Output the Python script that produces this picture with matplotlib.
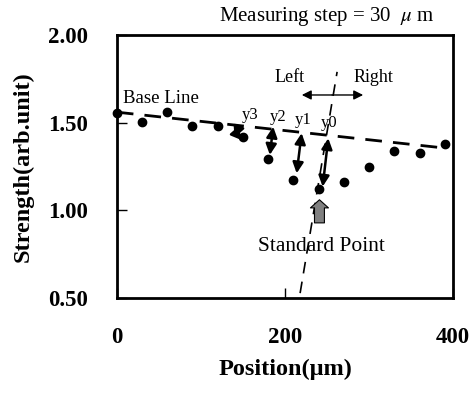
import matplotlib
matplotlib.use('Agg')
import matplotlib.pyplot as plt

plt.rcParams['font.family'] = ['Liberation Serif', 'DejaVu Serif']
plt.rcParams['mathtext.fontset'] = 'stix'

# 測定データ
positions = [0, 30, 60, 90, 120, 150, 180, 210, 240, 270, 300, 330, 360, 390]
strengths = [1.554, 1.506, 1.563, 1.481, 1.481, 1.417, 1.291, 1.171, 1.122,
             1.160, 1.247, 1.339, 1.325, 1.380]

# ベースラインと基準線
base_x = [0, 390]
base_y = [1.56, 1.355]
std_x = [218, 262]
std_y = [0.527, 1.79]

# y0..y3 の矢印 (上端, 下端)
gap_labels = ['y0', 'y1', 'y2', 'y3']
gap_top = [(251.5, 1.411), (219.8, 1.44), (186, 1.477), (146, 1.485)]
gap_bottom = [(244.8, 1.135), (213.9, 1.211), (182, 1.316), (140, 1.415)]
gap_text = [(253, 1.50), (222, 1.515), (191.5, 1.535), (158, 1.545)]

fig = plt.figure(figsize=(4.73, 3.94), dpi=100)
ax = fig.add_axes([0.247, 0.244, 0.711, 0.667])

ax.plot(positions, strengths, 'o', color='black', markersize=6, zorder=3, clip_on=False)
ax.plot(base_x, base_y, color='black', linewidth=2, dashes=(6, 4))
ax.plot(std_x, std_y, color='black', linewidth=1.2, dashes=(7, 5))

for lab, top, bot, tp in zip(gap_labels, gap_top, gap_bottom, gap_text):
    ax.annotate('', xy=top, xytext=bot,
                arrowprops=dict(arrowstyle='<|-|>', color='black', lw=1.8,
                                mutation_scale=16, shrinkA=0, shrinkB=0))
    ax.text(tp[0], tp[1], lab, fontsize=12, ha='center', va='center')

# Left / Right の矢印
ax.annotate('', xy=(220, 1.658), xytext=(256, 1.658),
            arrowprops=dict(arrowstyle='-|>', color='black', lw=1,
                            mutation_scale=14, shrinkA=0, shrinkB=0))
ax.annotate('', xy=(293, 1.658), xytext=(256, 1.658),
            arrowprops=dict(arrowstyle='-|>', color='black', lw=1,
                            mutation_scale=14, shrinkA=0, shrinkB=0))
ax.text(206, 1.76, 'Left', fontsize=13, ha='center', va='center')
ax.text(305, 1.76, 'Right', fontsize=13, ha='center', va='center')
ax.text(7, 1.64, 'Base Line', fontsize=13.5, ha='left', va='center')

# 基準点の灰色矢印
ax.annotate('', xy=(241, 1.06), xytext=(241, 0.928),
            arrowprops=dict(arrowstyle='simple,head_length=0.45,head_width=1.0,tail_width=0.55',
                            fc='gray', ec='black', lw=0.8, mutation_scale=13,
                            shrinkA=0, shrinkB=0))
ax.text(243, 0.795, 'Standard Point', fontsize=15.5, ha='center', va='center')

fig.text(0.69, 0.958, r'Measuring step = 30  $\mu$ m', fontsize=15, ha='center', va='center')

ax.set_xlim(0, 400)
ax.set_ylim(0.5, 2.0)
ax.set_xticks([0, 200, 400])
ax.set_yticks([0.5, 1.0, 1.5, 2.0])
ax.set_yticklabels(['0.50', '1.00', '1.50', '2.00'])
ax.tick_params(direction='in', length=7, width=1, pad=21, labelsize=16.5)
for lab in ax.get_xticklabels() + ax.get_yticklabels():
    lab.set_fontweight('bold')
for sp in ax.spines.values():
    sp.set_linewidth(2)

ax.set_xlabel('Position(μm)', fontsize=17.5, fontweight='bold', labelpad=8)
ax.set_ylabel('Strength(arb.unit)', fontsize=17.5, fontweight='bold', labelpad=10)

fig.savefig('out.png', dpi=100)
